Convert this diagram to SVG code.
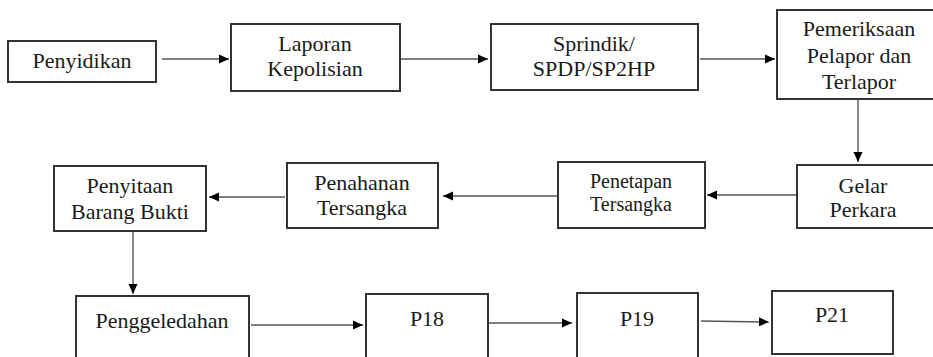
<svg xmlns="http://www.w3.org/2000/svg" width="933" height="357" viewBox="0 0 933 357">
<defs>
<style>
.box{fill:#fff;stroke:#333;stroke-width:2}
.t{font-family:"Liberation Serif","Times New Roman",serif;font-size:22px;fill:#1a1a1a;text-anchor:middle}
.s{font-size:20px}
.c{fill:none;stroke:#555;stroke-width:1.4}
</style>
<marker id="ah" viewBox="0 0 10 10" refX="10" refY="5" markerWidth="10" markerHeight="10" markerUnits="userSpaceOnUse" orient="auto">
<path d="M0,0.5 L10,5 L0,9.5 Z" fill="#000"/>
</marker>
</defs>
<rect width="933" height="357" fill="#fff"/>
<g id="connectors">
<line class="c" x1="162" y1="59" x2="229" y2="59" marker-end="url(#ah)"/>
<line class="c" x1="401" y1="59" x2="488" y2="59" marker-end="url(#ah)"/>
<line class="c" x1="700" y1="59" x2="775" y2="59" marker-end="url(#ah)"/>
<line class="c" x1="858" y1="99" x2="858" y2="162" marker-end="url(#ah)"/>
<line class="c" x1="797" y1="195" x2="707" y2="195" marker-end="url(#ah)"/>
<line class="c" x1="557" y1="196" x2="443" y2="196" marker-end="url(#ah)"/>
<line class="c" x1="285" y1="197" x2="209" y2="197" marker-end="url(#ah)"/>
<line class="c" x1="133" y1="231" x2="133" y2="294" marker-end="url(#ah)"/>
<line class="c" x1="251" y1="325" x2="363" y2="325" marker-end="url(#ah)"/>
<line class="c" x1="488" y1="323" x2="572" y2="323" marker-end="url(#ah)"/>
<line class="c" x1="701" y1="321" x2="769" y2="322" marker-end="url(#ah)"/>
</g>
<g id="penyidikan"><rect class="box" x="8" y="41" width="148" height="41"/><text class="t" x="82" y="68">Penyidikan</text></g>
<g id="laporan"><rect class="box" x="231" y="24" width="169" height="67"/><text class="t" x="315" y="51">Laporan</text><text class="t" x="315" y="76">Kepolisian</text></g>
<g id="sprindik"><rect class="box" x="491" y="24" width="207" height="66"/><text class="t" x="594" y="51">Sprindik/</text><text class="t" x="594" y="76">SPDP/SP2HP</text></g>
<g id="pemeriksaan"><rect class="box" x="777" y="10" width="170" height="89"/><text class="t" x="859" y="36">Pemeriksaan</text><text class="t" x="859" y="63">Pelapor dan</text><text class="t" x="859" y="89">Terlapor</text></g>
<g id="gelar"><rect class="box" x="797" y="165" width="150" height="63"/><text class="t" x="863" y="193">Gelar</text><text class="t" x="863" y="217">Perkara</text></g>
<g id="penetapan"><rect class="box" x="558" y="162" width="147" height="66"/><text class="t s" x="631" y="188">Penetapan</text><text class="t s" x="631" y="211">Tersangka</text></g>
<g id="penahanan"><rect class="box" x="287" y="163" width="151" height="65"/><text class="t" x="362" y="190">Penahanan</text><text class="t" x="362" y="215">Tersangka</text></g>
<g id="penyitaan"><rect class="box" x="54" y="166" width="152" height="65"/><text class="t" x="130" y="193">Penyitaan</text><text class="t" x="130" y="219">Barang Bukti</text></g>
<g id="penggeledahan"><rect class="box" x="76" y="296" width="173" height="70"/><text class="t" x="162" y="328">Penggeledahan</text></g>
<g id="p18"><rect class="box" x="366" y="294" width="122" height="70"/><text class="t" x="427" y="326">P18</text></g>
<g id="p19"><rect class="box" x="577" y="293" width="121" height="70"/><text class="t" x="637" y="326">P19</text></g>
<g id="p21"><rect class="box" x="772" y="291" width="121" height="63"/><text class="t" x="832" y="322">P21</text></g>
</svg>
